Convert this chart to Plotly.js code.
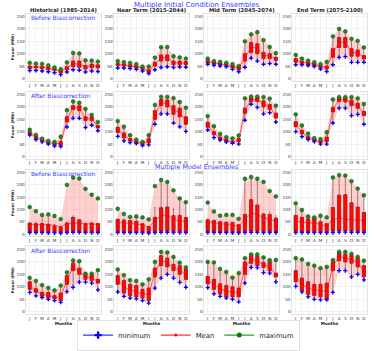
<!DOCTYPE html>
<html>
<head>
<meta charset="utf-8">
<script src="https://cdn.plot.ly/plotly-3.0.1.min.js"></script>
<style>
  body { margin: 0; background: #fff; }
  #chart { width: 374px; height: 351px; }
</style>
</head>
<body>
<div id="chart"></div>
<script>
// Month tick labels and their positions on the x axis
const months = ['J', 'F', 'M', 'A', 'M', 'J', 'J', 'A', 'S', 'O', 'N', 'D'];
const monthPos = [1, 2, 3, 4, 5, 6, 7, 8, 9, 10, 11, 12];
const periods = ['Historical (1985-2014)', 'Near Term (2015-2044)', 'Mid Term (2045-2074)', 'End Term (2075-2100)'];

// Multiple initial condition ensembles, before bias correction
const icRaw_hist_min  = [32, 32, 30, 27, 23, 15, 26, 35, 33, 26, 30, 28];
const icRaw_hist_q1   = [40, 43, 40, 36, 32, 22, 35, 48, 45, 38, 43, 42];
const icRaw_hist_med  = [45, 46, 44, 40, 36, 27, 41, 58, 56, 45, 50, 48];
const icRaw_hist_q3   = [50, 50, 48, 45, 40, 32, 47, 70, 70, 52, 58, 55];
const icRaw_hist_max  = [63, 60, 59, 53, 44, 37, 65, 103, 101, 73, 72, 68];
const icRaw_hist_mean = [46, 47, 45, 41, 36, 27, 42, 60, 58, 46, 51, 49];

const icRaw_near_min  = [42, 42, 40, 37, 30, 20, 35, 44, 47, 44, 46, 45];
const icRaw_near_q1   = [52, 50, 46, 43, 37, 25, 50, 70, 72, 55, 55, 55];
const icRaw_near_med  = [56, 54, 50, 47, 41, 30, 57, 82, 84, 62, 62, 61];
const icRaw_near_q3   = [60, 58, 55, 52, 45, 35, 65, 95, 95, 70, 70, 68];
const icRaw_near_max  = [70, 66, 63, 58, 48, 48, 84, 126, 127, 90, 85, 80];
const icRaw_near_mean = [57, 55, 51, 48, 41, 30, 58, 83, 85, 63, 63, 62];

const icRaw_mid_min  = [57, 53, 50, 47, 37, 27, 45, 82, 70, 57, 60, 57];
const icRaw_mid_q1   = [62, 58, 55, 52, 44, 35, 70, 105, 100, 80, 80, 72];
const icRaw_mid_med  = [67, 62, 59, 56, 48, 41, 85, 125, 120, 92, 90, 78];
const icRaw_mid_q3   = [72, 67, 63, 60, 53, 47, 100, 145, 140, 105, 100, 85];
const icRaw_mid_max  = [80, 70, 67, 63, 58, 50, 150, 178, 187, 155, 127, 102];
const icRaw_mid_mean = [68, 63, 59, 56, 48, 41, 86, 126, 122, 93, 91, 79];

const icRaw_end_min  = [55, 55, 52, 48, 38, 28, 55, 85, 88, 65, 65, 65];
const icRaw_end_q1   = [65, 60, 55, 52, 43, 38, 85, 125, 125, 90, 90, 78];
const icRaw_end_med  = [72, 65, 60, 57, 48, 44, 102, 145, 145, 105, 102, 85];
const icRaw_end_q3   = [80, 70, 65, 62, 52, 50, 120, 165, 165, 120, 115, 92];
const icRaw_end_max  = [95, 80, 72, 66, 58, 67, 170, 200, 190, 160, 152, 125];
const icRaw_end_mean = [73, 66, 61, 57, 48, 44, 103, 146, 146, 106, 103, 86];

// Multiple initial condition ensembles, after bias correction
const icCor_hist_min  = [86, 68, 59, 50, 42, 40, 119, 154, 154, 117, 126, 104];
const icCor_hist_q1   = [90, 73, 62, 53, 47, 45, 140, 190, 185, 145, 145, 115];
const icCor_hist_med  = [95, 78, 66, 57, 51, 52, 150, 198, 195, 152, 152, 120];
const icCor_hist_q3   = [100, 82, 70, 60, 55, 60, 160, 205, 205, 160, 160, 125];
const icCor_hist_max  = [108, 87, 72, 63, 59, 80, 187, 222, 217, 192, 168, 139];
const icCor_hist_mean = [95, 78, 66, 57, 51, 53, 150, 198, 195, 153, 152, 120];

const icCor_near_min  = [81, 63, 56, 52, 44, 47, 130, 172, 172, 135, 120, 101];
const icCor_near_q1   = [97, 75, 62, 55, 48, 55, 150, 205, 200, 170, 160, 130];
const icCor_near_med  = [108, 85, 67, 59, 52, 63, 168, 218, 214, 188, 178, 145];
const icCor_near_q3   = [118, 95, 72, 63, 57, 72, 185, 230, 228, 205, 195, 160];
const icCor_near_max  = [143, 120, 86, 68, 59, 86, 208, 241, 241, 236, 220, 197];
const icCor_near_mean = [108, 86, 67, 59, 52, 64, 168, 217, 213, 187, 177, 145];

const icCor_mid_min  = [107, 76, 66, 58, 53, 50, 146, 211, 198, 172, 177, 139];
const icCor_mid_q1   = [118, 88, 68, 60, 55, 60, 175, 222, 222, 200, 190, 155];
const icCor_mid_med  = [128, 94, 73, 65, 58, 66, 185, 230, 230, 212, 200, 165];
const icCor_mid_q3   = [138, 100, 78, 70, 62, 72, 195, 238, 238, 225, 210, 175];
const icCor_mid_max  = [163, 122, 91, 78, 73, 85, 235, 242, 242, 240, 234, 205];
const icCor_mid_mean = [128, 94, 73, 65, 58, 66, 185, 230, 229, 212, 200, 165];

const icCor_end_min  = [100, 80, 68, 60, 50, 50, 135, 195, 195, 165, 170, 130];
const icCor_end_q1   = [120, 92, 70, 62, 55, 60, 180, 222, 220, 205, 195, 165];
const icCor_end_med  = [130, 98, 75, 67, 59, 69, 189, 230, 229, 216, 205, 173];
const icCor_end_q3   = [140, 105, 80, 72, 63, 78, 198, 238, 238, 228, 215, 182];
const icCor_end_max  = [170, 125, 92, 74, 70, 98, 230, 240, 240, 240, 235, 212];
const icCor_end_mean = [130, 98, 75, 67, 59, 69, 188, 230, 229, 216, 205, 174];

// Multiple model ensembles, before bias correction (whiskers stop short of the max)
const meRaw_hist_min  = [6, 6, 6, 5, 5, 4, 6, 7, 7, 6, 6, 6];
const meRaw_hist_q1   = [8, 8, 8, 7, 7, 6, 8, 10, 10, 8, 8, 8];
const meRaw_hist_med  = [25, 24, 24, 22, 18, 15, 25, 38, 34, 24, 25, 24];
const meRaw_hist_q3   = [45, 42, 43, 40, 32, 28, 45, 68, 58, 42, 45, 43];
const meRaw_hist_whi  = [48, 50, 78, 78, 40, 30, 50, 75, 60, 45, 48, 45];
const meRaw_hist_max  = [110, 93, 78, 80, 74, 61, 200, 230, 226, 184, 160, 145];
const meRaw_hist_mean = [40, 40, 40, 38, 35, 30, 42, 45, 45, 42, 42, 40];

const meRaw_near_min  = [6, 6, 6, 6, 5, 4, 6, 7, 7, 6, 6, 6];
const meRaw_near_q1   = [9, 9, 9, 8, 7, 6, 10, 12, 12, 10, 9, 9];
const meRaw_near_med  = [32, 30, 28, 27, 22, 15, 35, 55, 55, 40, 40, 35];
const meRaw_near_q3   = [60, 57, 55, 52, 42, 30, 68, 107, 110, 75, 76, 67];
const meRaw_near_whi  = [62, 62, 60, 68, 45, 32, 110, 220, 210, 105, 145, 130];
const meRaw_near_max  = [103, 82, 70, 72, 68, 60, 195, 220, 212, 178, 145, 130];
const meRaw_near_mean = [48, 45, 42, 42, 38, 28, 55, 75, 78, 60, 55, 50];

const meRaw_mid_min  = [6, 6, 6, 6, 5, 5, 6, 7, 7, 6, 6, 6];
const meRaw_mid_q1   = [9, 9, 8, 8, 8, 7, 10, 12, 12, 10, 10, 9];
const meRaw_mid_med  = [30, 28, 26, 25, 24, 20, 42, 70, 60, 42, 40, 34];
const meRaw_mid_q3   = [58, 55, 50, 48, 47, 38, 80, 140, 118, 82, 80, 65];
const meRaw_mid_whi  = [62, 58, 52, 50, 48, 40, 225, 232, 225, 85, 90, 75];
const meRaw_mid_max  = [128, 92, 75, 78, 78, 62, 225, 232, 225, 212, 175, 153];
const meRaw_mid_mean = [50, 45, 42, 40, 38, 33, 60, 85, 80, 65, 60, 52];

const meRaw_end_min  = [6, 6, 6, 6, 6, 5, 6, 8, 8, 7, 7, 6];
const meRaw_end_q1   = [10, 9, 9, 9, 8, 7, 12, 14, 14, 12, 11, 10];
const meRaw_end_med  = [40, 35, 32, 33, 26, 22, 55, 80, 80, 65, 55, 45];
const meRaw_end_q3   = [76, 68, 62, 65, 50, 42, 108, 158, 160, 127, 110, 88];
const meRaw_end_whi  = [125, 95, 70, 70, 72, 45, 230, 240, 238, 215, 185, 158];
const meRaw_end_max  = [125, 98, 72, 68, 75, 68, 230, 240, 238, 215, 185, 158];
const meRaw_end_mean = [52, 48, 45, 45, 40, 33, 60, 65, 60, 60, 58, 55];

// Multiple model ensembles, after bias correction
const meCor_hist_min  = [78, 64, 57, 50, 45, 38, 81, 98, 119, 119, 115, 88];
const meCor_hist_q1   = [90, 78, 62, 55, 52, 45, 110, 165, 150, 130, 125, 115];
const meCor_hist_med  = [105, 85, 70, 65, 58, 60, 128, 180, 162, 140, 137, 122];
const meCor_hist_q3   = [120, 92, 78, 78, 65, 75, 145, 195, 175, 150, 148, 130];
const meCor_hist_max  = [136, 124, 107, 96, 86, 105, 158, 206, 203, 153, 153, 167];
const meCor_hist_mean = [104, 85, 70, 66, 58, 60, 127, 179, 162, 140, 136, 122];

const meCor_near_min  = [80, 62, 55, 52, 45, 35, 95, 135, 150, 135, 118, 98];
const meCor_near_q1   = [110, 75, 65, 60, 55, 45, 140, 185, 180, 165, 150, 130];
const meCor_near_med  = [128, 100, 88, 82, 72, 70, 158, 205, 198, 178, 168, 150];
const meCor_near_q3   = [145, 125, 110, 105, 90, 95, 175, 225, 215, 190, 185, 170];
const meCor_near_max  = [170, 147, 127, 124, 110, 130, 200, 240, 238, 220, 197, 178];
const meCor_near_mean = [127, 100, 88, 82, 72, 70, 157, 204, 197, 177, 167, 150];

const meCor_mid_min  = [97, 72, 62, 55, 50, 40, 115, 178, 177, 157, 155, 120];
const meCor_mid_q1   = [112, 90, 72, 60, 60, 60, 150, 195, 185, 178, 165, 140];
const meCor_mid_med  = [127, 110, 92, 82, 80, 78, 175, 212, 203, 188, 182, 148];
const meCor_mid_q3   = [142, 130, 112, 105, 100, 95, 200, 230, 222, 198, 200, 155];
const meCor_mid_max  = [200, 198, 172, 160, 137, 155, 215, 230, 230, 218, 207, 208];
const meCor_mid_mean = [127, 110, 92, 83, 80, 77, 175, 212, 203, 188, 182, 148];

const meCor_end_min  = [102, 80, 60, 50, 48, 48, 78, 165, 165, 140, 150, 128];
const meCor_end_q1   = [120, 85, 70, 65, 60, 50, 165, 205, 200, 195, 180, 140];
const meCor_end_med  = [142, 110, 95, 88, 85, 82, 182, 222, 215, 210, 198, 162];
const meCor_end_q3   = [165, 135, 120, 110, 110, 115, 200, 240, 230, 225, 215, 185];
const meCor_end_max  = [215, 210, 192, 185, 175, 180, 207, 240, 240, 232, 220, 205];
const meCor_end_mean = [142, 110, 95, 88, 85, 82, 182, 222, 215, 210, 197, 162];

// Panel table, row by row (whisker top defaults to the max)
const panels = [
    {min: icRaw_hist_min, q1: icRaw_hist_q1, med: icRaw_hist_med, q3: icRaw_hist_q3, max: icRaw_hist_max, mean: icRaw_hist_mean},
    {min: icRaw_near_min, q1: icRaw_near_q1, med: icRaw_near_med, q3: icRaw_near_q3, max: icRaw_near_max, mean: icRaw_near_mean},
    {min: icRaw_mid_min, q1: icRaw_mid_q1, med: icRaw_mid_med, q3: icRaw_mid_q3, max: icRaw_mid_max, mean: icRaw_mid_mean},
    {min: icRaw_end_min, q1: icRaw_end_q1, med: icRaw_end_med, q3: icRaw_end_q3, max: icRaw_end_max, mean: icRaw_end_mean},
    {min: icCor_hist_min, q1: icCor_hist_q1, med: icCor_hist_med, q3: icCor_hist_q3, max: icCor_hist_max, mean: icCor_hist_mean},
    {min: icCor_near_min, q1: icCor_near_q1, med: icCor_near_med, q3: icCor_near_q3, max: icCor_near_max, mean: icCor_near_mean},
    {min: icCor_mid_min, q1: icCor_mid_q1, med: icCor_mid_med, q3: icCor_mid_q3, max: icCor_mid_max, mean: icCor_mid_mean},
    {min: icCor_end_min, q1: icCor_end_q1, med: icCor_end_med, q3: icCor_end_q3, max: icCor_end_max, mean: icCor_end_mean},
    {min: meRaw_hist_min, q1: meRaw_hist_q1, med: meRaw_hist_med, q3: meRaw_hist_q3, max: meRaw_hist_max, mean: meRaw_hist_mean, whi: meRaw_hist_whi},
    {min: meRaw_near_min, q1: meRaw_near_q1, med: meRaw_near_med, q3: meRaw_near_q3, max: meRaw_near_max, mean: meRaw_near_mean, whi: meRaw_near_whi},
    {min: meRaw_mid_min, q1: meRaw_mid_q1, med: meRaw_mid_med, q3: meRaw_mid_q3, max: meRaw_mid_max, mean: meRaw_mid_mean, whi: meRaw_mid_whi},
    {min: meRaw_end_min, q1: meRaw_end_q1, med: meRaw_end_med, q3: meRaw_end_q3, max: meRaw_end_max, mean: meRaw_end_mean, whi: meRaw_end_whi},
    {min: meCor_hist_min, q1: meCor_hist_q1, med: meCor_hist_med, q3: meCor_hist_q3, max: meCor_hist_max, mean: meCor_hist_mean},
    {min: meCor_near_min, q1: meCor_near_q1, med: meCor_near_med, q3: meCor_near_q3, max: meCor_near_max, mean: meCor_near_mean},
    {min: meCor_mid_min, q1: meCor_mid_q1, med: meCor_mid_med, q3: meCor_mid_q3, max: meCor_mid_max, mean: meCor_mid_mean},
    {min: meCor_end_min, q1: meCor_end_q1, med: meCor_end_med, q3: meCor_end_q3, max: meCor_end_max, mean: meCor_end_mean}
];

// Figure geometry in pixels
const W = 374, H = 351;
const colPx = [[26, 101], [114, 189], [204, 279], [292, 367]];
const rowPx = [[14, 85], [96, 167], [178, 248.6], [258.7, 330.3]];
const FONT = 'DejaVu Sans, Arial, sans-serif';
const BLUE_TXT = '#3a3aff';

const traces = [];
const layout = {
    width: W,
    height: H,
    margin: {l: 0, r: 0, t: 0, b: 0},
    paper_bgcolor: '#fff',
    plot_bgcolor: '#fff',
    font: {family: FONT, size: 4.2, color: '#333'},
    boxmode: 'overlay',
    showlegend: true,
    legend: {
        orientation: 'h',
        traceorder: 'normal',
        x: 0.504, xanchor: 'center',
        y: 1 - 336.5 / H, yanchor: 'top',
        font: {size: 6.8, color: '#222'},
        bordercolor: '#cccccc', borderwidth: 0.6,
        bgcolor: '#fff',
        itemwidth: 30,
        tracegroupgap: 0
    },
    annotations: []
};

panels.forEach((p, i) => {
    const row = Math.floor(i / 4), col = i % 4;
    const ax = i === 0 ? '' : String(i + 1);
    const xa = 'x' + ax, ya = 'y' + ax;
    const common = {xaxis: xa, yaxis: ya, showlegend: false, hoverinfo: 'skip'};

    // pink band between min and max
    traces.push({...common, type: 'scatter', x: monthPos, y: p.min, mode: 'lines', line: {width: 0, color: 'rgba(0,0,0,0)'}});
    traces.push({...common, type: 'scatter', x: monthPos, y: p.max, mode: 'lines', line: {width: 0, color: 'rgba(0,0,0,0)'},
        fill: 'tonexty', fillcolor: 'rgba(255,40,40,0.22)'});

    // whiskers (dark) then the red box body on top
    traces.push({...common, type: 'box', x: monthPos, q1: p.q1, median: p.med, q3: p.q3,
        lowerfence: p.min, upperfence: p.whi || p.max, width: 0.5, whiskerwidth: 0.2,
        boxpoints: false, line: {color: '#444', width: 0.6}, fillcolor: 'red'});
    traces.push({...common, type: 'box', x: monthPos, q1: p.q1, median: p.med, q3: p.q3,
        lowerfence: p.q1, upperfence: p.q3, width: 0.5, whiskerwidth: 0,
        boxpoints: false, line: {color: '#b80000', width: 0.5}, fillcolor: 'red'});

    // mean, min, max
    traces.push({...common, type: 'scatter', x: monthPos, y: p.mean, mode: 'lines+markers',
        line: {color: 'red', width: 0.6}, marker: {color: 'red', size: 2}});
    traces.push({...common, type: 'scatter', x: monthPos, y: p.min, mode: 'markers',
        marker: {color: 'blue', symbol: 'cross', size: 3.4, line: {width: 0}}});
    traces.push({...common, type: 'scatter', x: monthPos, y: p.max, mode: 'markers',
        marker: {color: '#1e8a1e', symbol: 'circle', size: 3.8, line: {color: '#0d4d0d', width: 0.5}}});

    layout['xaxis' + ax] = {
        domain: [colPx[col][0] / W, colPx[col][1] / W],
        anchor: ya,
        range: [0.4, 12.5],
        tickvals: monthPos,
        ticktext: months,
        tickfont: {size: 4.2, color: '#333'},
        ticks: '',
        ticklabelstandoff: row === 1 ? -1 : 0,
        showgrid: true, gridcolor: '#e8e8e8', gridwidth: 0.5,
        zeroline: false,
        showline: true, mirror: true, linecolor: '#d0d0d0', linewidth: 0.6,
        fixedrange: true,
        title: row === 3 ? {text: '<b>Months</b>', font: {size: 4.2, color: '#222'}, standoff: 1} : {text: ''}
    };
    layout['yaxis' + ax] = {
        domain: [1 - rowPx[row][1] / H, 1 - rowPx[row][0] / H],
        anchor: xa,
        range: [-10, 263],
        tickvals: [0, 50, 100, 150, 200, 250],
        tickfont: {size: 4.2, color: '#333'},
        ticks: '',
        showgrid: true, gridcolor: '#e8e8e8', gridwidth: 0.5,
        zeroline: false,
        showline: true, mirror: true, linecolor: '#d0d0d0', linewidth: 0.6,
        fixedrange: true,
        title: col === 0 ? {text: '<b>Power (MW)</b>', font: {size: 3.8, color: '#222'}, standoff: 2} : {text: ''}
    };
});

// legend-only entries
traces.push({type: 'scatter', x: [null], y: [null], name: 'minimum', mode: 'lines+markers',
    line: {color: 'blue', width: 1}, marker: {color: 'blue', symbol: 'cross', size: 6}});
traces.push({type: 'scatter', x: [null], y: [null], name: 'Mean', mode: 'lines+markers',
    line: {color: 'red', width: 1}, marker: {color: 'red', size: 3}});
traces.push({type: 'scatter', x: [null], y: [null], name: 'maximum', mode: 'lines+markers',
    line: {color: 'green', width: 1}, marker: {color: 'green', size: 5}});

// Section titles
layout.annotations.push({text: 'Multiple Initial Condition Ensembles', xref: 'paper', yref: 'paper',
    x: 197 / W, y: 1 - 5.5 / H, showarrow: false, xanchor: 'center', yanchor: 'middle',
    font: {size: 7, color: BLUE_TXT}});
layout.annotations.push({text: 'Multiple Model Ensembles', xref: 'paper', yref: 'paper',
    x: 197 / W, y: 1 - 175.5 / H, showarrow: false, xanchor: 'center', yanchor: 'middle',
    borderpad: 0, font: {size: 6.4, color: BLUE_TXT}});

// Column (period) titles
periods.forEach((t, c) => {
    layout.annotations.push({text: '<b>' + t + '</b>', xref: 'paper', yref: 'paper',
        x: (colPx[c][0] + colPx[c][1]) / 2 / W, y: 1 - 10.7 / H, showarrow: false,
        xanchor: 'center', yanchor: 'middle', font: {size: 5.3, color: '#222'}});
});

// Row labels inside the first column
const rowLabels = ['Before Biascorrection', 'After Biascorrection', 'Before Biascorrection', 'After Biascorrection'];
const rowLabelY = [18, 100, 182.5, 263];
rowLabels.forEach((t, r) => {
    layout.annotations.push({text: t, xref: 'paper', yref: 'paper',
        x: 29 / W, y: 1 - rowLabelY[r] / H, showarrow: false,
        xanchor: 'left', yanchor: 'middle', font: {size: 6, color: BLUE_TXT}});
});

Plotly.newPlot('chart', traces, layout, {displayModeBar: false, staticPlot: true});
</script>
</body>
</html>
